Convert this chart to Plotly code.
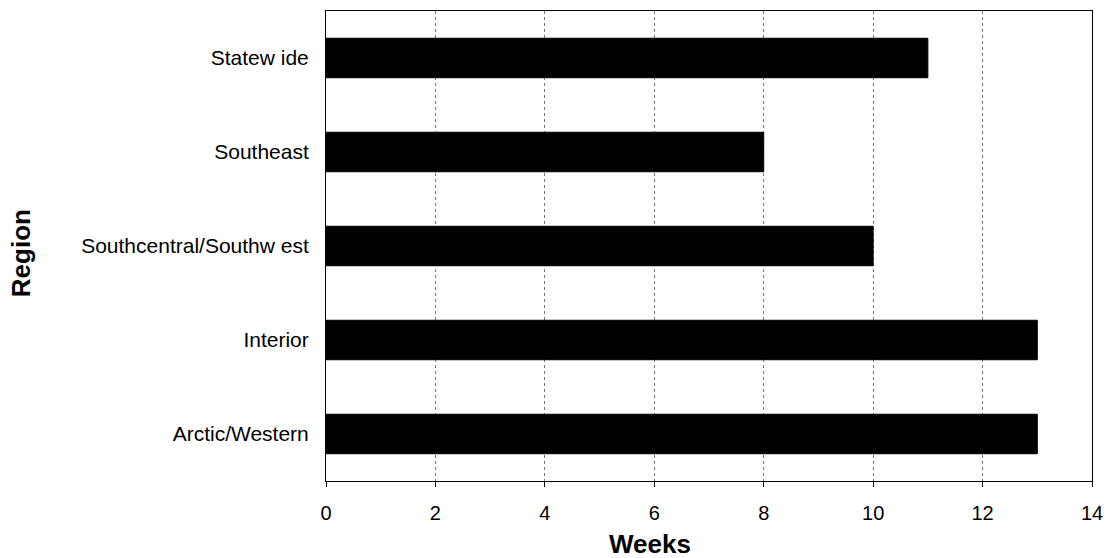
import plotly.graph_objects as go

regions = ["Arctic/Western", "Interior", "Southcentral/Southw est", "Southeast", "Statew ide"]
weeks = [13, 13, 10, 8, 11]
x_ticks = [0, 2, 4, 6, 8, 10, 12, 14]

FONT = "Arial, Liberation Sans, sans-serif"

fig = go.Figure(go.Bar(
    y=regions, x=weeks, orientation="h",
    marker=dict(color="black", line=dict(color="black", width=1)),
    width=0.42,
))

fig.update_layout(
    width=1110, height=558,
    margin=dict(l=326, r=18, t=11, b=77),
    paper_bgcolor="white", plot_bgcolor="white",
    showlegend=False,
    font=dict(family=FONT, color="black", size=20),
    xaxis=dict(
        range=[0, 14], tickvals=x_ticks, ticktext=[str(v) for v in x_ticks],
        showgrid=True, gridcolor="#777777", griddash="3px,3px", gridwidth=1,
        showline=True, linecolor="black", linewidth=1, mirror=True,
        ticks="outside", ticklen=5, tickcolor="black",
        ticklabelstandoff=9, tickfont=dict(size=20),
        zeroline=False, fixedrange=True, automargin=False,
    ),
    yaxis=dict(
        categoryorder="array", categoryarray=regions,
        showgrid=False, showline=True, linecolor="black", linewidth=1, mirror=True,
        ticks="", ticklabelstandoff=12, tickfont=dict(size=21),
        fixedrange=True, automargin=False,
    ),
    annotations=[
        dict(text="<b>Weeks</b>", xref="paper", yref="paper", x=0.4235, y=-0.134,
             xanchor="center", yanchor="middle", showarrow=False, font=dict(size=26)),
        dict(text="<b>Region</b>", xref="paper", yref="paper", x=-0.398, y=0.485,
             xanchor="center", yanchor="middle", textangle=-90, showarrow=False,
             font=dict(size=26)),
    ],
)

fig.write_html("out.html")
